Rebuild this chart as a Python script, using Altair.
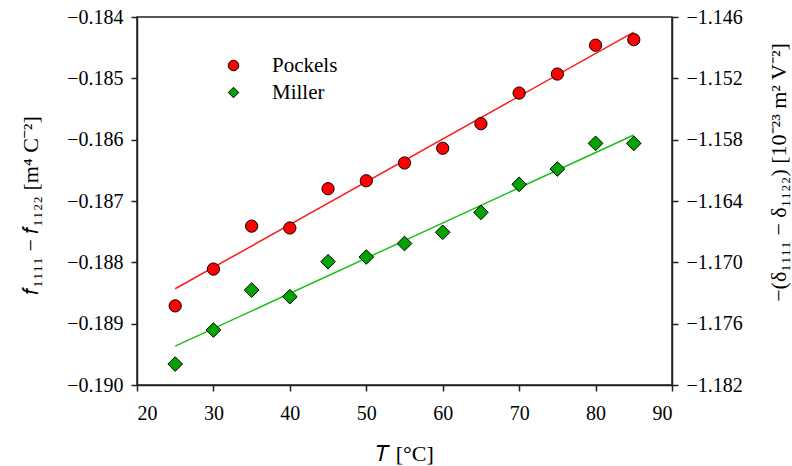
import altair as alt
import pandas as pd

temperature = [25, 30, 35, 40, 45, 50, 55, 60, 65, 70, 75, 80, 85]
pockels = [-0.18871, -0.18811, -0.18741, -0.18744, -0.18680, -0.18667, -0.18638,
           -0.18614, -0.18574, -0.18524, -0.18493, -0.18446, -0.18437]
miller = [-1.17995, -1.17662, -1.17271, -1.17336, -1.16994, -1.16948, -1.16816,
          -1.16706, -1.16511, -1.16237, -1.16087, -1.15836, -1.15836]
series_names = ["Pockels", "Miller"]
x_ticks = [20, 25, 30, 35, 40, 45, 50, 55, 60, 65, 70, 75, 80, 85, 90]
left_ticks = [-0.190, -0.1895, -0.189, -0.1885, -0.188, -0.1875, -0.187, -0.1865,
              -0.186, -0.1855, -0.185, -0.1845, -0.184]
right_ticks = [-1.182, -1.179, -1.176, -1.173, -1.170, -1.167, -1.164, -1.161,
               -1.158, -1.155, -1.152, -1.149, -1.146]

df = pd.DataFrame({"T": temperature, "pockels": pockels, "miller": miller})

FONT = "Liberation Serif, Times New Roman, serif"
AXCOL = "#222222"

common_axis = dict(
    labelFont=FONT, labelFontSize=20, labelColor="black",
    titleFont=FONT, titleFontSize=22, titleFontWeight="normal", titleColor="black",
    domainColor=AXCOL, domainWidth=1.5, tickColor=AXCOL, tickWidth=1.5,
    grid=False, labelPadding=8,
)

x_axis = alt.Axis(
    values=x_ticks,
    labelExpr="datum.value % 10 == 0 ? datum.label : ''",
    tickSize={"condition": {"test": "datum.value % 10 == 0", "value": 6}, "value": 4},
    title="𝑇 [°C]", titleBaseline="middle", titleY=68,
    labelPadding=12,
    **{k: v for k, v in common_axis.items() if k != "labelPadding"},
)

left_major = "abs(datum.value*1000 - round(datum.value*1000)) < 0.01"
left_axis = alt.Axis(
    orient="left", values=left_ticks,
    labelExpr=left_major + " ? format(datum.value, '.3f') : ''",
    tickSize={"condition": {"test": left_major, "value": 6}, "value": 4},
    title="𝑓₁₁₁₁ − 𝑓₁₁₂₂ [m⁴ C⁻²]",
    titleAngle=270, titleBaseline="middle", titleAlign="center",
    titleX=-107, titleY=188,
    **common_axis,
)

right_major = "abs((datum.value + 1.182)/0.006 - round((datum.value + 1.182)/0.006)) < 0.01"
right_axis = alt.Axis(
    orient="right", values=right_ticks,
    labelExpr=right_major + " ? format(datum.value, '.3f') : ''",
    tickSize={"condition": {"test": right_major, "value": 6}, "value": 4},
    title="−(δ₁₁₁₁ − δ₁₁₂₂) [10⁻²³ m² V⁻²]",
    titleAngle=270, titleBaseline="middle", titleAlign="center",
    titleX=106, titleY=155,
    **common_axis,
)

x_enc = alt.X("T:Q", scale=alt.Scale(domain=[20, 90], nice=False, zero=False), axis=x_axis)
x_plain = alt.X("T:Q", scale=alt.Scale(domain=[20, 90], nice=False, zero=False))

legend_opts = dict(
    title=None, orient="none", legendX=86, legendY=38,
    labelFont=FONT, labelFontSize=21, labelColor="black",
    symbolSize=110, symbolStrokeColor="black", symbolStrokeWidth=1,
    labelOffset=28, rowPadding=5, padding=0,
)
color_enc = alt.Color(
    "series:N",
    scale=alt.Scale(domain=series_names, range=["#ff0000", "#00a300"]),
    legend=alt.Legend(**legend_opts),
)
shape_enc = alt.Shape(
    "series:N",
    scale=alt.Scale(domain=series_names, range=["circle", "diamond"]),
    legend=alt.Legend(**legend_opts),
)

base = alt.Chart(df)

left_line = base.transform_regression("T", "pockels").mark_line(
    color="#ff1a1a", strokeWidth=1.5
).encode(
    x=x_enc,
    y=alt.Y("pockels:Q", scale=alt.Scale(domain=[-0.190, -0.184], nice=False, zero=False),
            axis=left_axis),
)
left_pts = base.transform_calculate(series="'Pockels'").mark_point(
    filled=True, size=150, stroke="black", strokeWidth=1, opacity=1
).encode(
    x=x_plain,
    y=alt.Y("pockels:Q"),
    color=color_enc,
    shape=shape_enc,
)

right_line = base.transform_regression("T", "miller").mark_line(
    color="#18c018", strokeWidth=1.5
).encode(
    x=x_plain,
    y=alt.Y("miller:Q", scale=alt.Scale(domain=[-1.182, -1.146], nice=False, zero=False),
            axis=right_axis),
)
right_pts = base.transform_calculate(series="'Miller'").mark_point(
    filled=True, size=215, stroke="black", strokeWidth=1, opacity=1
).encode(
    x=x_plain,
    y=alt.Y("miller:Q"),
    color=color_enc,
    shape=shape_enc,
)

left = alt.layer(left_line, left_pts)
right = alt.layer(right_line, right_pts)

chart = alt.layer(left, right).resolve_scale(y="independent").properties(
    width=535, height=368,
    padding={"left": 137, "top": 17, "right": 120, "bottom": 81},
    autosize=alt.AutoSizeParams(type="none"),
    background="white",
).configure_view(stroke=AXCOL, strokeWidth=1.5)

chart.save("out.html", embed_options={"renderer": "svg", "actions": False})
